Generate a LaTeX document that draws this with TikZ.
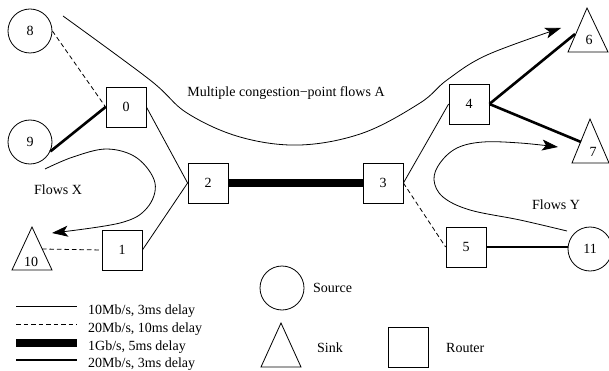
\documentclass[tikz,border=0pt]{standalone}
\usepackage{fontspec}
\setmainfont{Liberation Serif}
\usetikzlibrary{arrows.meta}
\begin{document}
\begin{tikzpicture}[x=1pt,y=-1pt,
  every node/.style={font=\fontsize{14}{16}\selectfont},
  router/.style={draw, line width=0.8pt, minimum size=40pt, inner sep=0pt},
  src/.style={draw, circle, line width=0.8pt, minimum size=44pt, inner sep=0pt},
  thinlink/.style={line width=0.8pt},
  thicklink/.style={line width=2.6pt},
  giglink/.style={line width=8pt},
  dashlink/.style={line width=0.8pt, dash pattern=on 4.5pt off 3pt},
  sinkshape/.style={draw, line width=0.8pt, line join=miter},
  flow/.style={line width=0.8pt, -{Stealth[length=16pt,width=11pt,inset=4pt]}},
  txt/.style={inner sep=0pt}
]
\useasboundingbox (0,0) rectangle (609,371);

% routers
\node[router] (b0) at (126,107) {0};
\node[router] (b1) at (122,250) {1};
\node[router] (b2) at (208,183) {2};
\node[router] (b3) at (383,183) {3};
\node[router] (b4) at (469,104) {4};
\node[router] (b5) at (466,247) {5};

% sources
\node[src] (s8) at (30,31) {8};
\node[src] (s9) at (30,142) {9};
\node[src] (s11) at (590,249) {11};

% sinks
\draw[sinkshape] (587,8) -- (608,52) -- (568,52) -- cycle;
\node[txt] (t6) at (589,40) {6};
\coordinate (t6e) at (575,34);
\draw[sinkshape] (590,119) -- (609,163) -- (572,163) -- cycle;
\node[txt] (t7) at (593,152) {7};
\coordinate (t7e) at (581,142);
\draw[sinkshape] (32,227) -- (52,270) -- (12,270) -- cycle;
\node[txt] (t10) at (31,262) {10};
\coordinate (t10e) at (42,249);

% links
\draw[dashlink] (s8.east) -- (b0.west);
\draw[thicklink] (s9.-25) -- (b0.west);
\draw[thinlink] (b0.east) -- (b2.west);
\draw[thinlink] (b1.east) -- (b2.west);
\draw[dashlink] (t10e) -- (b1.west);
\draw[giglink] (b2.east) -- (b3.west);
\draw[thinlink] (b3.east) -- (b4.west);
\draw[dashlink] (b3.east) -- (b5.west);
\draw[thicklink] (b5.east) -- (b5.east -| s11.west);
\draw[thicklink] (b4.east) -- (t6e);
\draw[thicklink] (b4.east) -- (t7e);

% flows
\draw[flow] plot[smooth,tension=0.6] coordinates {(63,16) (150,80) (187,113) (240,137) (300,145) (363,133) (420,103) (447,80) (487,55) (561,28)};
\draw[flow] plot[smooth,tension=0.6] coordinates {(45,169) (73,157) (107,149) (137,158) (155,183) (147,208) (120,223) (52,233)};
\draw[flow] plot[smooth,tension=0.6] coordinates {(567,231) (520,220) (470,210) (443,197) (434,180) (440,163) (457,148) (483,142) (520,143) (558,147)};

\node[txt] (la) at (286,93) {Multiple congestion−point flows A};
\node[txt] (lx) at (58,190) {Flows X};
\node[txt] (ly) at (556,205) {Flows Y};

% legend
\coordinate (g1a) at (16,306); \coordinate (g1b) at (77,306);
\coordinate (g2a) at (16,324); \coordinate (g2b) at (77,324);
\coordinate (g3a) at (16,343); \coordinate (g3b) at (77,343);
\coordinate (g4a) at (16,360); \coordinate (g4b) at (77,360);
\draw[thinlink] (g1a) -- (g1b);
\draw[dashlink] (g2a) -- (g2b);
\draw[giglink] (g3a) -- (g3b);
\draw[thicklink] (g4a) -- (g4b);
\node[txt, anchor=base west] (gl1) at (88,314) {10Mb/s, 3ms delay};
\node[txt, anchor=base west] (gl2) at (88,332) {20Mb/s, 10ms delay};
\node[txt, anchor=base west] (gl3) at (88,350) {1Gb/s, 5ms delay};
\node[txt, anchor=base west] (gl4) at (88,367) {20Mb/s, 3ms delay};

\node[src] (ksrc) at (282,288) {};
\node[txt, anchor=west] (ksrct) at (313,288) {Source};
\draw[sinkshape] (281,323) -- (301,367) -- (261,367) -- cycle;
\node[txt, anchor=west] (ksink) at (317,348) {Sink};
\node[router] (krout) at (408,347) {};
\node[txt, anchor=west] (kroutt) at (446,348) {Router};
\end{tikzpicture}
\end{document}
